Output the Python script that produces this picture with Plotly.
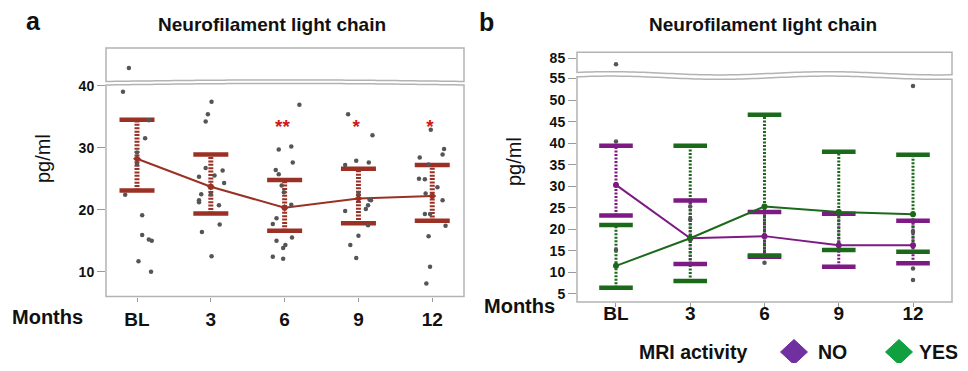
import numpy as np
import plotly.graph_objects as go

# the page body has an 8px default margin; the figure is sized so the page does not overflow
OFF = 8
W, H = 968 - 2 * OFF, 371 - 2 * OFF

# ---------------- data ----------------
months = ["BL", "3", "6", "9", "12"]

# panel a : all patients (mean with confidence interval)
a_mean = [28.2, 23.7, 20.3, 21.8, 22.2]
a_lo = [23.1, 19.4, 16.6, 17.8, 18.2]
a_hi = [34.5, 28.9, 24.8, 26.6, 27.2]
a_sig = ["", "", "**", "*", "*"]

# panel a individual values (category index, value, jitter)
a_pt_cat = [0]*13 + [1]*16 + [2]*17 + [3]*15 + [4]*16
a_pt_val = [42.5, 39.0, 34.4, 31.5, 29.2, 27.4, 22.4, 19.1, 15.9, 15.2, 15.0, 11.7, 10.0,
            37.4, 35.4, 34.2, 26.7, 26.3, 25.5, 25.3, 24.3, 22.5, 22.5, 21.5, 21.2, 20.7, 17.6, 16.4, 12.5,
            36.9, 30.2, 29.7, 27.6, 26.4, 25.7, 23.9, 22.8, 20.8, 18.6, 17.7, 15.5, 15.0, 14.3, 13.8, 12.4, 12.1,
            35.4, 32.0, 27.9, 27.6, 27.2, 22.7, 21.6, 21.5, 20.7, 20.1, 19.8, 17.5, 15.8, 14.3, 12.2,
            32.9, 29.8, 28.9, 28.4, 27.3, 25.0, 24.9, 23.6, 22.6, 21.5, 19.3, 19.3, 17.4, 15.7, 10.8, 8.1]
a_pt_jit = [-0.11, -0.19, 0.16, 0.11, 0.0, 0.0, -0.16, 0.07, 0.07, 0.16, 0.2, 0.02, 0.19,
            0.01, -0.04, -0.07, -0.07, 0.16, 0.05, -0.16, 0.18, -0.13, 0.0, -0.16, -0.16, 0.11, 0.12, -0.12, 0.01,
            0.2, 0.09, -0.08, 0.11, -0.12, -0.08, -0.04, -0.01, 0.09, -0.11, -0.16, 0.10, -0.11, 0.01, -0.02, -0.16, -0.02,
            -0.14, 0.19, -0.03, 0.14, -0.18, 0.0, 0.15, 0.17, 0.13, 0.10, -0.18, 0.13, 0.0, -0.11, -0.03,
            -0.02, 0.16, 0.14, -0.17, -0.05, -0.18, -0.10, 0.07, -0.09, 0.14, -0.10, -0.03, 0.18, -0.05, -0.03, -0.08]

# panel b : by MRI activity
mri_groups = ["NO", "YES"]
no_mean = [30.3, 17.9, 18.4, 16.3, 16.3]
no_lo = [23.2, 11.9, 13.6, 11.3, 12.1]
no_hi = [39.4, 26.7, 24.0, 23.6, 22.0]
yes_mean = [11.5, 17.9, 25.3, 24.0, 23.5]
yes_lo = [6.4, 8.0, 13.9, 15.2, 14.8]
yes_hi = [21.0, 39.4, 46.6, 38.0, 37.3]
b_pt_cat = [0, 0, 0, 1, 1, 2, 4, 4, 4, 4]
b_pt_val = [83.0, 40.4, 15.2, 25.3, 22.3, 12.2, 53.3, 19.4, 10.9, 8.2]

a_break = 41      # values above go into the upper (broken) band
b_break = 60

# ---------------- styles ----------------
RED = "#9b3124"
PURPLE = "#7d1a83"
GREEN = "#1b6a1b"
KEY_COLORS = ["#7030a0", "#10a040"]
GRAY = "#555555"
FONT = "Liberation Sans"

fig = go.Figure()


def stems(lo, hi):
    xs, ys = [], []
    for i, (l, h) in enumerate(zip(lo, hi)):
        xs += [i, i, None]
        ys += [l, h, None]
    return xs, ys


def add_ci(lo, hi, color, xa, ya, stem_w, dash):
    sx, sy = stems(lo, hi)
    fig.add_trace(go.Scatter(x=sx, y=sy, mode="lines", xaxis=xa, yaxis=ya,
                             line=dict(color=color, width=stem_w, dash=dash),
                             hoverinfo="skip", showlegend=False))


def add_caps(lo, hi, color, xa, ya, cap_size, cap_w):
    idx = list(range(len(lo)))
    fig.add_trace(go.Scatter(x=idx + idx, y=list(lo) + list(hi), mode="markers", xaxis=xa, yaxis=ya,
                             marker=dict(symbol="line-ew-open", size=cap_size, color=color,
                                         line=dict(width=cap_w, color=color)),
                             hoverinfo="skip", showlegend=False))


# ---- panel a ----
add_ci(a_lo, a_hi, RED, "x", "y", 5, "2px,1.4px")
add_caps(a_lo, a_hi, RED, "x", "y", 25, 4.5)
fig.add_trace(go.Scatter(x=list(range(5)), y=a_mean, mode="lines+markers", xaxis="x", yaxis="y",
                         line=dict(color=RED, width=2), marker=dict(symbol="diamond", size=6, color=RED),
                         showlegend=False))
ax_x = np.array(a_pt_cat) + np.array(a_pt_jit)
ax_v = np.array(a_pt_val)
low = ax_v <= a_break
fig.add_trace(go.Scatter(x=ax_x[low], y=ax_v[low], mode="markers", xaxis="x", yaxis="y",
                         marker=dict(size=4.5, color=GRAY), showlegend=False))
fig.add_trace(go.Scatter(x=ax_x[~low], y=ax_v[~low], mode="markers", xaxis="x", yaxis="y2",
                         marker=dict(size=4.5, color=GRAY), showlegend=False))
sig_x = [i - 0.03 for i, s in enumerate(a_sig) if s]
sig_t = [s for s in a_sig if s]
fig.add_trace(go.Scatter(x=sig_x, y=[33.2] * len(sig_x), mode="text", text=sig_t, xaxis="x", yaxis="y",
                         textfont=dict(family=FONT, size=19, color="#d01818", weight="bold"),
                         showlegend=False, hoverinfo="skip"))

# ---- panel b ----
add_ci(no_lo, no_hi, PURPLE, "x2", "y3", 3, "2px,1.5px")
add_ci(yes_lo, yes_hi, GREEN, "x2", "y3", 3, "2px,1.5px")
add_caps(no_lo, no_hi, PURPLE, "x2", "y3", 24, 4.5)
add_caps(yes_lo, yes_hi, GREEN, "x2", "y3", 24, 4.5)
fig.add_trace(go.Scatter(x=list(range(5)), y=no_mean, mode="lines+markers", xaxis="x2", yaxis="y3",
                         name="NO", line=dict(color=PURPLE, width=2), marker=dict(size=6, color=PURPLE),
                         showlegend=False))
fig.add_trace(go.Scatter(x=list(range(5)), y=yes_mean, mode="lines+markers", xaxis="x2", yaxis="y3",
                         name="YES", line=dict(color=GREEN, width=2), marker=dict(size=6, color=GREEN),
                         showlegend=False))
bx = np.array(b_pt_cat, dtype=float)
bv = np.array(b_pt_val)
lowb = bv <= b_break
fig.add_trace(go.Scatter(x=bx[lowb], y=bv[lowb], mode="markers", xaxis="x2", yaxis="y3",
                         marker=dict(size=4.5, color=GRAY), showlegend=False))
fig.add_trace(go.Scatter(x=bx[~lowb], y=bv[~lowb], mode="markers", xaxis="x2", yaxis="y4",
                         marker=dict(size=4.5, color=GRAY), showlegend=False))


# ---------------- layout ----------------
def px_x(x):
    return (x - OFF) / W


def px_y(y):
    return 1 - (y - OFF) / H


A_X0, A_X1 = 106, 464
A_TOP0, A_TOP1 = 48, 81.5
A_MAIN0, A_MAIN1 = 85, 296.5
B_X0, B_X1 = 577, 952
B_TOP0, B_TOP1 = 52.3, 73.3
B_MAIN0, B_MAIN1 = 77.7, 302

tickfont_y = dict(family=FONT, size=14, color="#111", weight="bold")
tickfont_x = dict(family=FONT, size=19, color="#111", weight="bold")

common_y = dict(showgrid=False, zeroline=False, showline=False, ticks="outside", ticklen=8,
                tickcolor="#9a9a9a", tickwidth=1, tickfont=tickfont_y, automargin=False)
common_x = dict(showgrid=False, zeroline=False, showline=False, ticks="outside", ticklen=4,
                tickcolor="#9a9a9a", tickwidth=1, tickfont=tickfont_x, automargin=False,
                tickvals=list(range(5)), ticktext=months)

fig.update_layout(
    template="none",
    width=W, height=H, margin=dict(l=0, r=0, t=0, b=0, pad=0, autoexpand=False),
    paper_bgcolor="white", plot_bgcolor="white", showlegend=False,
    xaxis=dict(domain=[px_x(A_X0), px_x(A_X1)], range=[-0.42, 4.43], anchor="y",
               ticklabelstandoff=2, **common_x),
    yaxis=dict(domain=[px_y(A_MAIN1), px_y(A_MAIN0)], range=[6.0, 40.1], anchor="x",
               tickvals=[10, 20, 30, 40], **common_y),
    yaxis2=dict(domain=[px_y(A_TOP1), px_y(A_TOP0)], range=[41.5, 44.0], anchor="x",
                tickvals=[], showgrid=False, zeroline=False, showline=False, automargin=False),
    xaxis2=dict(domain=[px_x(B_X0), px_x(B_X1)], range=[-0.525, 4.525], anchor="y3",
                ticklabelstandoff=-10, **common_x),
    yaxis3=dict(domain=[px_y(B_MAIN1), px_y(B_MAIN0)], range=[3.1, 55.2], anchor="x2",
                tickvals=[5, 10, 15, 20, 25, 30, 35, 40, 45, 50, 55], **common_y),
    yaxis4=dict(domain=[px_y(B_TOP1), px_y(B_TOP0)], range=[80, 87], anchor="x2",
                tickvals=[85], **common_y),
)


# frames with wavy break edges
def wave_a(t):
    return -1.6 * np.sin(np.pi * t)


def wave_b(t):
    return -1.6 * np.cos(2 * np.pi * (t - 0.09) / 0.58)


def box_path(x0, x1, y0, y1, wavy_edge, wave):
    t = np.linspace(0, 1, 80)
    xs = x0 + (x1 - x0) * t
    ws = wave(t)
    pts = []
    if wavy_edge == "top":
        pts.append((x0, y1))
        pts.append((x1, y1))
        for xx, ww in zip(xs[::-1], ws[::-1]):
            pts.append((xx, y0 + ww))
    else:
        pts.append((x0, y0))
        pts.append((x1, y0))
        for xx, ww in zip(xs[::-1], ws[::-1]):
            pts.append((xx, y1 + ww))
    d = "M " + " L ".join(f"{px_x(a):.5f},{px_y(b):.5f}" for a, b in pts) + " Z"
    return d


shapes = []
for d in [box_path(A_X0, A_X1, A_MAIN0, A_MAIN1, "top", wave_a),
          box_path(A_X0, A_X1, A_TOP0, A_TOP1, "bottom", wave_a),
          box_path(B_X0, B_X1, B_MAIN0, B_MAIN1, "top", wave_b),
          box_path(B_X0, B_X1, B_TOP0, B_TOP1, "bottom", wave_b)]:
    shapes.append(dict(type="path", path=d, xref="paper", yref="paper",
                       line=dict(color="#b3b3b3", width=1.5), layer="below"))

# legend key (diamond swatches)
KEY_Y = 352
KEY_X = [794, 899]
for cx, col in zip(KEY_X, KEY_COLORS):
    pts = [(cx, KEY_Y - 12.5), (cx + 13.5, KEY_Y), (cx, KEY_Y + 12.5), (cx - 13.5, KEY_Y)]
    d = "M " + " L ".join(f"{px_x(a):.5f},{px_y(b):.5f}" for a, b in pts) + " Z"
    shapes.append(dict(type="path", path=d, xref="paper", yref="paper",
                       fillcolor=col, line=dict(color=col, width=1)))
fig.update_layout(shapes=shapes)

ann = []


def txt(x, y, s, size, bold=True, angle=0):
    ann.append(dict(x=px_x(x), y=px_y(y), xref="paper", yref="paper", text=s, showarrow=False,
                    xanchor="center", yanchor="middle", textangle=angle,
                    font=dict(family=FONT, size=size, color="#111", weight="bold" if bold else "normal")))


txt(33, 21, "a", 25)
txt(486, 22, "b", 25)
txt(271.5, 24, "Neurofilament light chain", 19)
txt(763, 24, "Neurofilament light chain", 19)
txt(43, 159, "pg/ml", 20, bold=False, angle=-90)
txt(514, 162, "pg/ml", 20, bold=False, angle=-90)
txt(47, 317, "Months", 20)
txt(519.5, 306, "Months", 20)
txt(693, KEY_Y, "MRI activity", 19.5)
txt(832, KEY_Y, mri_groups[0], 19.5)
txt(938.5, KEY_Y, mri_groups[1], 19.5)
fig.update_layout(annotations=ann)

fig.write_html("out.html")
